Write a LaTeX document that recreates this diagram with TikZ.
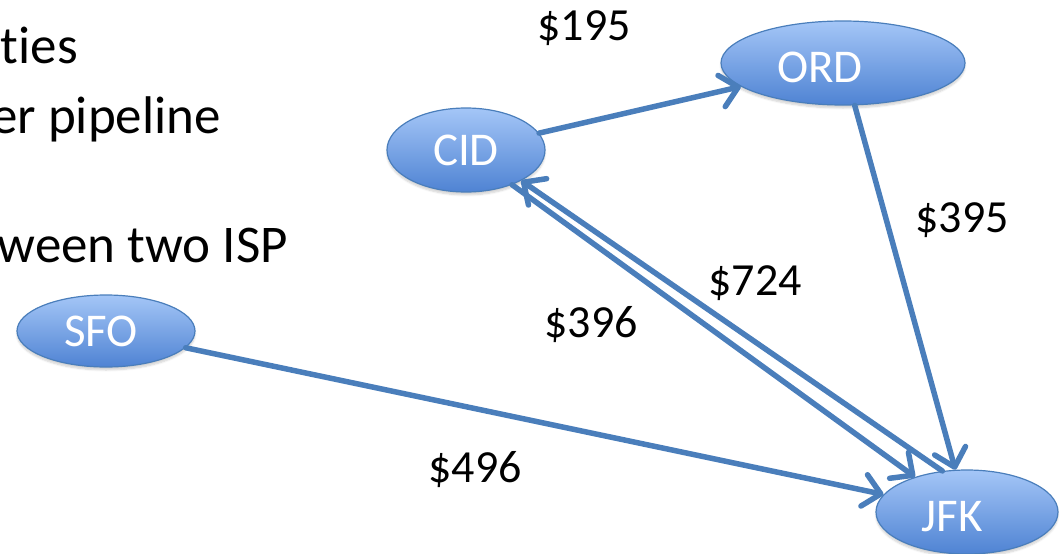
\documentclass[tikz,border=0pt]{standalone}
\usepackage{fontspec}
\setmainfont{Carlito}[Ligatures={NoCommon}]
\usetikzlibrary{shapes.geometric,arrows.meta,shadows.blur}
\definecolor{edgeblue}{HTML}{4A7EBB}
\definecolor{filltop}{HTML}{A4C6F7}
\definecolor{fillbot}{HTML}{4F83D3}
\tikzset{
  city/.style={ellipse, draw=edgeblue, line width=1.2pt, top color=filltop,
    bottom color=fillbot, inner sep=0pt,
    blur shadow={shadow xshift=0pt, shadow yshift=-3pt, shadow opacity=18,
      shadow blur steps=6}},
  ctext/.style={text=white, font=\fontsize{47}{47}\selectfont, inner sep=0pt},
  fare/.style={font=\fontsize{46}{46}\selectfont, inner sep=0pt, anchor=base},
  bullet/.style={font=\fontsize{53}{53}\selectfont, inner sep=0pt, anchor=base east},
  route/.style={draw=edgeblue, line width=5.5pt, line cap=round,
    -{Straight Barb[length=17pt,width=32pt,line cap=round,line join=round]}},
}
\begin{document}
\begin{tikzpicture}[x=1pt,y=-1pt]
\useasboundingbox (0,0) rectangle (1063,554);
\clip (0,0) rectangle (1063,554);

% bullet text cut off at the left margin
\node[bullet] (b1) at (78,63) {ties};
\node[bullet] (b2) at (221,133) {er pipeline};
\node[bullet] (b3) at (288,262) {ween two ISP};

% airports
\node[city, minimum width=158pt, minimum height=84pt,
  label={[ctext]center:CID}] (cid) at (466,150) {};
\node[city, minimum width=244pt, minimum height=84pt,
  label={[ctext, xshift=-23pt, yshift=-4pt]center:ORD}] (ord) at (843,63) {};
\node[city, minimum width=182pt, minimum height=84pt,
  label={[ctext, xshift=-15pt, yshift=-5pt]center:JFK}] (jfk) at (967,512) {};
\node[city, minimum width=178pt, minimum height=72pt,
  label={[ctext, xshift=-5pt]center:SFO}] (sfo) at (106,331) {};

% routes
\draw[route] (cid) -- (ord);
\draw[route] (ord) -- (jfk);
\draw[route] (sfo) -- (jfk);
\draw[route] (cid.-37) -- (jfk.146);
\draw[route] (jfk.121) -- (cid.-29);

% fares
\node[fare] (f195) at (584,40) {\$195};
\node[fare] (f395) at (962,232) {\$395};
\node[fare] (f724) at (755,295) {\$724};
\node[fare] (f396) at (591,337) {\$396};
\node[fare] (f496) at (475,482) {\$496};
\end{tikzpicture}
\end{document}
